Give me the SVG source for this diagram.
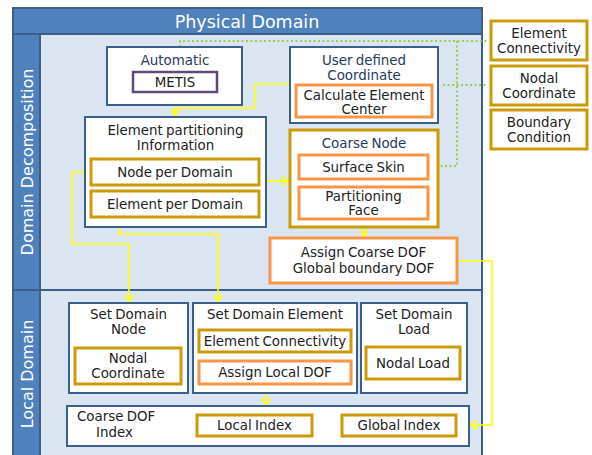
<svg xmlns="http://www.w3.org/2000/svg" width="592" height="455" viewBox="0 0 592 455">
<style>
text{font-family:"DejaVu Sans","Liberation Sans",sans-serif;font-size:13.4px;word-spacing:-1px;fill:#222;text-anchor:middle}
.t{fill:#1f3a60}
.w{fill:#fff;word-spacing:0}
.nb{fill:#fff;stroke:#3a5f8c;stroke-width:2}
.gb{fill:#fff;stroke:#cc9a06;stroke-width:3}
.ob{fill:#fff;stroke:#f79646;stroke-width:3}
.pb{fill:#fff;stroke:#604a7b;stroke-width:2.5}
.y{fill:none;stroke:#ffff00;stroke-width:1.6;marker-end:url(#ah)}
.g{fill:none;stroke:#92d050;stroke-width:2;stroke-dasharray:2 2.5}
</style>
<defs>
<marker id="ah" viewBox="0 0 10 10" refX="9" refY="5" markerWidth="10" markerHeight="10" markerUnits="userSpaceOnUse" orient="auto">
<polyline points="2,1 9,5 2,9" fill="none" stroke="#ffff00" stroke-width="1.6"/>
</marker>
</defs>
<g id="frame">
<rect x="13" y="8" width="469" height="460" fill="#dbe5f1" stroke="#3a5f8c" stroke-width="2"/>
<rect x="13" y="8" width="469" height="26" fill="#4f81bd" stroke="#3a5f8c" stroke-width="2"/>
<rect x="13" y="34" width="27" height="434" fill="#4f81bd" stroke="#3a5f8c" stroke-width="2"/>
<line x1="13" y1="290" x2="482" y2="290" stroke="#3a5f8c" stroke-width="2"/>
<text class="w" x="247" y="28" style="font-size:17.5px">Physical Domain</text>
<text class="w" transform="translate(33,162) rotate(-90)" style="font-size:16px">Domain Decomposition</text>
<text class="w" transform="translate(33,374) rotate(-90)" style="font-size:16px">Local Domain</text>
</g>
<g id="connectors">
<path class="g" d="M180,47 V41 H488"/>
<path class="g" d="M457,41 V166 H429"/>
<path class="g" d="M443,85 H488"/>
<path class="y" d="M289,84 H255 V108 H175 V116"/>
<path class="y" d="M91,172 H72 V244 H129 V302"/>
<path class="y" d="M119,217 V234 H218 V302"/>
<path class="y" d="M266,181 H289"/>
<path class="y" d="M364,227 V237"/>
<path class="y" d="M457,261 H492 V425 H470"/>
<path class="y" d="M266,393 V405"/>
</g>
<g id="automatic">
<rect class="nb" x="107" y="47" width="135" height="58"/>
<text class="t" x="175" y="65">Automatic</text>
<rect class="pb" x="133" y="72" width="84" height="20"/>
<text x="175" y="87">METIS</text>
</g>
<g id="user-defined">
<rect class="nb" x="290" y="47" width="148" height="76"/>
<text class="t" x="364" y="65">User defined</text>
<text class="t" x="364" y="80">Coordinate</text>
<rect class="ob" x="296" y="85" width="136" height="32"/>
<text x="364" y="100">Calculate Element</text>
<text x="364" y="114">Center</text>
</g>
<g id="element-partitioning">
<rect class="nb" x="85" y="117" width="181" height="110"/>
<text x="175.5" y="135">Element partitioning</text>
<text x="175.5" y="150">Information</text>
<rect class="gb" x="91" y="159" width="168" height="26"/>
<text x="175" y="177">Node per Domain</text>
<rect class="gb" x="91" y="191" width="168" height="26"/>
<text x="175" y="209">Element per Domain</text>
</g>
<g id="coarse-node">
<rect class="gb" x="290" y="130" width="148" height="97"/>
<text class="t" x="364" y="148">Coarse Node</text>
<rect class="ob" x="299" y="155" width="129" height="24"/>
<text x="363.5" y="172">Surface Skin</text>
<rect class="ob" x="299" y="187" width="129" height="32"/>
<text x="363.5" y="201">Partitioning</text>
<text x="363.5" y="215">Face</text>
</g>
<g id="assign-coarse">
<rect class="ob" x="270" y="238" width="187" height="45"/>
<text x="363.5" y="257">Assign Coarse DOF</text>
<text x="363.5" y="273">Global boundary DOF</text>
</g>
<g id="in-element-connectivity">
<rect class="gb" x="491" y="21" width="96" height="39"/>
<text x="539" y="38">Element</text>
<text x="539" y="53">Connectivity</text>
</g>
<g id="in-nodal-coordinate">
<rect class="gb" x="491" y="66" width="96" height="39"/>
<text x="539" y="83">Nodal</text>
<text x="539" y="98">Coordinate</text>
</g>
<g id="in-boundary-condition">
<rect class="gb" x="491" y="110" width="96" height="39"/>
<text x="539" y="127">Boundary</text>
<text x="539" y="142">Condition</text>
</g>
<g id="set-domain-node">
<rect class="nb" x="69" y="303" width="119" height="90"/>
<text x="128.5" y="319">Set Domain</text>
<text x="128.5" y="334">Node</text>
<rect class="gb" x="75" y="348" width="106" height="36"/>
<text x="128" y="363">Nodal</text>
<text x="128" y="378">Coordinate</text>
</g>
<g id="set-domain-element">
<rect class="nb" x="193" y="303" width="164" height="90"/>
<text x="275" y="319">Set Domain Element</text>
<rect class="gb" x="199" y="330" width="152" height="22"/>
<text x="275" y="346">Element Connectivity</text>
<rect class="ob" x="199" y="361" width="152" height="23"/>
<text x="275" y="377">Assign Local DOF</text>
</g>
<g id="set-domain-load">
<rect class="nb" x="361" y="303" width="106" height="90"/>
<text x="414" y="319">Set Domain</text>
<text x="414" y="334">Load</text>
<rect class="gb" x="366" y="347" width="94" height="32"/>
<text x="413" y="368">Nodal Load</text>
</g>
<g id="coarse-dof-index">
<rect class="nb" x="67" y="406" width="402" height="40"/>
<text x="77" y="421" style="text-anchor:start">Coarse DOF</text>
<text x="96" y="437" style="text-anchor:start">Index</text>
<rect class="gb" x="197" y="415" width="115" height="21"/>
<text x="254.5" y="430">Local Index</text>
<rect class="gb" x="342" y="415" width="114" height="21"/>
<text x="399" y="430">Global Index</text>
</g>
</svg>
